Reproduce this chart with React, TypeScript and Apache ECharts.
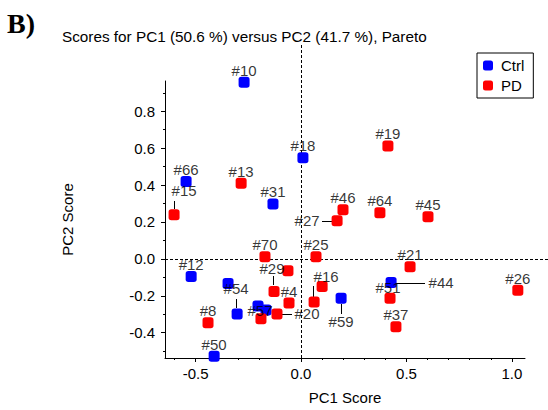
import React, { useEffect, useRef } from "react";
import * as echarts from "echarts";

// ---- data ----
const ctrlNames = ["#10", "#18", "#66", "#31", "#12", "", "#54", "", "#57", "#50", "#59", "#44"];
const ctrlX = [-0.27, 0.009, -0.545, -0.133, -0.521, -0.346, -0.303, -0.204, -0.166, -0.412, 0.19, 0.427];
const ctrlY = [0.957, 0.548, 0.42, 0.298, -0.096, -0.133, -0.298, -0.255, -0.277, -0.527, -0.213, -0.128];

const pdNames = ["#15", "#13", "#19", "#46", "#27", "#64", "#45", "#70", "#25", "", "#29", "#4", "#20", "", "#8", "", "#16", "#21", "#51", "#37", "#26"];
const pdX = [-0.602, -0.284, 0.412, 0.199, 0.171, 0.374, 0.602, -0.171, 0.071, -0.062, -0.128, -0.057, -0.114, -0.19, -0.441, 0.1, 0.062, 0.517, 0.422, 0.45, 1.028];
const pdY = [0.239, 0.41, 0.612, 0.266, 0.207, 0.25, 0.229, 0.011, 0.011, -0.064, -0.176, -0.239, -0.298, -0.324, -0.346, -0.149, -0.234, -0.043, -0.213, -0.367, -0.17];

const xTicks = [-0.6, -0.5, -0.4, -0.3, -0.2, -0.1, 0, 0.1, 0.2, 0.3, 0.4, 0.5, 0.6, 0.7, 0.8, 0.9, 1.0];
const xLabels = [-0.5, 0, 0.5, 1.0];
const yTicks = [-0.5, -0.4, -0.3, -0.2, -0.1, 0, 0.1, 0.2, 0.3, 0.4, 0.5, 0.6, 0.7, 0.8, 0.9];
const yLabels = [-0.4, -0.2, 0, 0.2, 0.4, 0.6, 0.8];

const X_MIN = -0.645;
const X_MAX = 1.062;
const Y_MIN = -0.537;
const Y_MAX = 0.964;

const TITLE = "Scores for PC1 (50.6 %) versus PC2 (41.7 %), Pareto";

// ---- label placement (styles, pixel offsets) ----
type Place = { position?: string; distance?: number; dx?: number; dy?: number };
const labelPlace: Record<string, Place> = {
  "#15": { dx: 10, dy: -12 },
  "#29": { dx: -2, dy: -11 },
  "#54": { dx: -1, dy: -13 },
  "#16": { dx: 12, dy: -14 },
  "#59": { position: "bottom", distance: 10 },
  "#27": { position: "left", distance: 12 },
  "#20": { position: "right", distance: 12 },
  "#44": { position: "right", distance: 32 },
  "#57": { position: "inside", dx: -6 },
  "#51": { dx: -2, dy: 1 },
};
// leader line offsets from the marker centre: [x1, y1, x2, y2]
const leaderOffsets: Record<string, number[]> = {
  "#15": [0, -6, 0, -14],
  "#29": [-1, -6, -1, -15],
  "#54": [-1, -6, -1, -15],
  "#16": [-1, -5, -1, -16],
  "#59": [0, 6, 0, 16],
  "#27": [-2, 0, -15, 0],
  "#20": [5, 0, 15, 0],
  "#44": [0, 0, 34, 0],
};

const FONT = "Liberation Sans, Arial, sans-serif";
const SYMBOL_SIZE = 11;

function buildData(xs: number[], ys: number[], names: string[]) {
  return xs.map((x, i) => {
    const name = names[i];
    const p = labelPlace[name] || {};
    const label: any = { show: !!name };
    if (p.position) label.position = p.position;
    if (p.distance !== undefined) label.distance = p.distance;
    return { value: [x, ys[i]], name, label };
  });
}

function markerSeries(seriesName: string, color: string, xs: number[], ys: number[], z: number) {
  return {
    name: seriesName,
    type: "scatter",
    xAxisIndex: 0,
    yAxisIndex: 0,
    symbol: "roundRect",
    symbolSize: SYMBOL_SIZE,
    itemStyle: { color, opacity: 1 },
    label: { show: false },
    data: xs.map((x, i) => [x, ys[i]]),
    z,
  };
}

function labelSeries(id: string, xs: number[], ys: number[], names: string[]) {
  return {
    id,
    name: id,
    type: "scatter",
    xAxisIndex: 0,
    yAxisIndex: 0,
    symbol: "roundRect",
    symbolSize: SYMBOL_SIZE,
    silent: true,
    itemStyle: { color: "rgba(0,0,0,0)" },
    label: {
      show: true,
      formatter: "{b}",
      position: "top",
      distance: -1,
      color: "#000",
      fontSize: 15,
      fontFamily: FONT,
    },
    labelLayout: (params: any) => {
      const p = labelPlace[names[params.dataIndex]];
      if (p && (p.dx || p.dy)) return { dx: p.dx || 0, dy: p.dy || 0 };
      return {};
    },
    data: buildData(xs, ys, names),
    z: 10,
  };
}

export default function App() {
  const ref = useRef<HTMLDivElement>(null);

  useEffect(() => {
    if (!ref.current) return;
    const chart = echarts.init(ref.current, null, { renderer: "svg" });
    const axisText = { color: "#000", fontSize: 15, fontFamily: FONT };
    const option: any = {
      animation: false,
      backgroundColor: "#fff",
      title: [
        {
          text: "B)",
          left: 7,
          top: 9,
          padding: 0,
          textStyle: { fontFamily: "Liberation Serif, Times New Roman, serif", fontWeight: "bold", fontSize: 28, color: "#000" },
        },
        {
          text: TITLE,
          left: 62,
          top: 29,
          padding: 0,
          textStyle: { fontFamily: FONT, fontWeight: "normal", fontSize: 15.3, color: "#000" },
        },
      ],
      legend: {
        data: ["Ctrl", "PD"],
        orient: "vertical",
        left: 477,
        top: 53,
        padding: [5, 9, 5, 6],
        itemGap: 5,
        itemWidth: 10,
        itemHeight: 10,
        icon: "roundRect",
        borderColor: "#000",
        borderWidth: 1,
        backgroundColor: "#fff",
        textStyle: { color: "#000", fontSize: 15, fontFamily: FONT, padding: [0, 0, 0, 3] },
      },
      grid: { left: 165, right: 23, top: 81, bottom: 47, containLabel: false },
      xAxis: [
        {
          type: "value",
          position: "bottom",
          min: X_MIN,
          max: X_MAX,
          axisLine: { show: true, onZero: false, lineStyle: { color: "#000", width: 1 } },
          axisTick: { show: true, customValues: xTicks, length: 2, lineStyle: { color: "#000" } },
          axisLabel: { show: false },
          splitLine: { show: false },
        },
        {
          type: "value",
          position: "bottom",
          min: X_MIN,
          max: X_MAX,
          axisLine: { show: false, onZero: false },
          axisTick: { show: true, customValues: xLabels, length: 4, lineStyle: { color: "#000" } },
          axisLabel: {
            show: true,
            customValues: xLabels,
            margin: 8,
            formatter: (v: number) => v.toFixed(1),
            ...axisText,
          },
          splitLine: { show: false },
          name: "PC1 Score",
          nameLocation: "middle",
          nameGap: 32,
          nameTextStyle: axisText,
        },
      ],
      yAxis: [
        {
          type: "value",
          position: "left",
          min: Y_MIN,
          max: Y_MAX,
          axisLine: { show: true, onZero: false, lineStyle: { color: "#000", width: 1 } },
          axisTick: { show: true, customValues: yTicks, length: 2, lineStyle: { color: "#000" } },
          axisLabel: { show: false },
          splitLine: { show: false },
        },
        {
          type: "value",
          position: "left",
          min: Y_MIN,
          max: Y_MAX,
          axisLine: { show: false, onZero: false },
          axisTick: { show: true, customValues: yLabels, length: 4, lineStyle: { color: "#000" } },
          axisLabel: {
            show: true,
            customValues: yLabels,
            margin: 10,
            formatter: (v: number) => v.toFixed(1),
            ...axisText,
          },
          splitLine: { show: false },
          name: "PC2 Score",
          nameLocation: "middle",
          nameGap: 90,
          nameTextStyle: axisText,
        },
      ],
      series: [
        markerSeries("Ctrl", "#0000ff", ctrlX, ctrlY, 3),
        markerSeries("PD", "#ff0000", pdX, pdY, 3),
        labelSeries("ctrlLabels", ctrlX, ctrlY, ctrlNames),
        labelSeries("pdLabels", pdX, pdY, pdNames),
      ],
    };
    chart.setOption(option);

    // dashed zero lines and label leader lines, positioned through the axes' own scales
    const toPx = (v: number[]) => chart.convertToPixel({ xAxisIndex: 0, yAxisIndex: 0 }, v) as number[];
    const origin = toPx([0, 0]);
    const bottomLeft = toPx([X_MIN, Y_MIN]);
    const vx = Math.round(origin[0]) + 0.5;
    const hy = Math.round(origin[1]) + 0.5;
    const dashStyle = { stroke: "#000", lineWidth: 1, lineDash: [3, 2], fill: null };
    const graphics: any[] = [
      {
        type: "line",
        z: 1,
        silent: true,
        shape: { x1: vx, y1: 45, x2: vx, y2: Math.round(bottomLeft[1]) },
        style: dashStyle,
      },
      {
        type: "line",
        z: 1,
        silent: true,
        shape: { x1: Math.round(bottomLeft[0]), y1: hy, x2: 548, y2: hy },
        style: dashStyle,
      },
    ];
    const addLeaders = (xs: number[], ys: number[], names: string[]) => {
      xs.forEach((x, i) => {
        const off = leaderOffsets[names[i]];
        if (!off) return;
        const p = toPx([x, ys[i]]);
        const cx = Math.round(p[0]);
        const cy = Math.round(p[1]);
        const vertical = off[0] === off[2];
        graphics.push({
          type: "line",
          z: 2,
          silent: true,
          shape: {
            x1: cx + off[0] + (vertical ? 0.5 : 0),
            y1: cy + off[1] + (vertical ? 0 : 0.5),
            x2: cx + off[2] + (vertical ? 0.5 : 0),
            y2: cy + off[3] + (vertical ? 0 : 0.5),
          },
          style: { stroke: "#000", lineWidth: 1, fill: null },
        });
      });
    };
    addLeaders(ctrlX, ctrlY, ctrlNames);
    addLeaders(pdX, pdY, pdNames);
    chart.setOption({ graphic: graphics });

    return () => chart.dispose();
  }, []);

  return (
    <div
      ref={ref}
      style={{ position: "fixed", left: 0, top: 0, width: 548, height: 410, background: "#fff" }}
    />
  );
}
